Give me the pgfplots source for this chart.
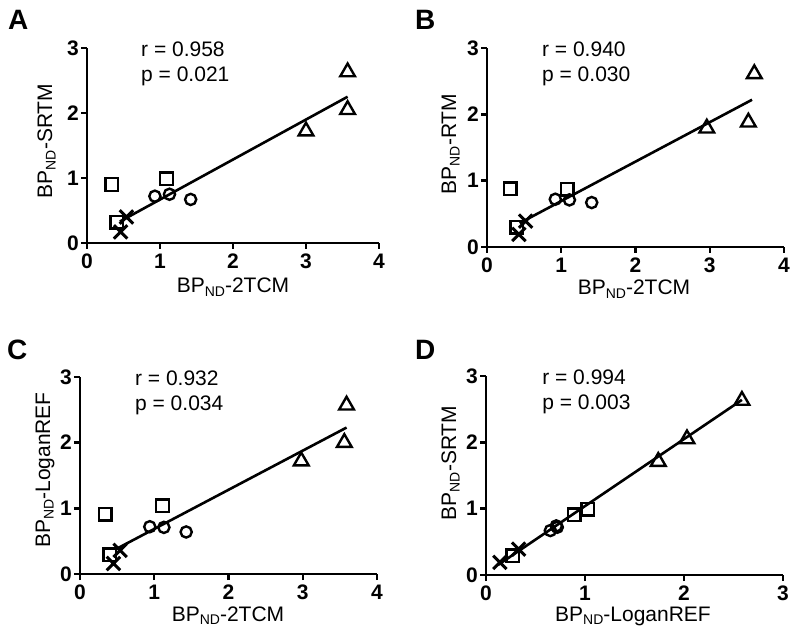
\documentclass[border=0pt]{standalone}
\usepackage{fontspec}
\setmainfont{Liberation Sans}
\usepackage{pgfplots}
\pgfplotsset{compat=1.18}
\newcommand{\bpnd}{BP\raisebox{-3.5pt}{\fontsize{14}{14}\selectfont ND}}
\tikzset{ann/.style={anchor=base west, font=\fontsize{21}{21}\selectfont, inner sep=0pt},
  ylab/.style={rotate=90, anchor=base, inner sep=0pt, font=\fontsize{21}{21}\selectfont},
  xlab/.style={anchor=base, inner sep=0pt, font=\fontsize{21}{21}\selectfont},
  plet/.style={anchor=base west, inner sep=0pt, font=\fontsize{28}{28}\selectfont\bfseries}}
\pgfplotsset{
  panel/.style={
    scale only axis,
    axis lines=left,
    axis line style={-, line width=2.8pt},
    tick align=outside,
    major tick length=6pt,
    tick style={line width=2.4pt, black},
    ymin=0, ymax=3, ytick={0,1,2,3},
    ticklabel style={font=\fontsize{21}{21}\selectfont\bfseries, inner sep=1pt},
    xticklabel style={yshift=-4pt},
    yticklabel style={xshift=-1pt},
    /pgf/number format/assume math mode=true,
    clip=false,
  },
  tri/.style={only marks, mark=triangle, mark size=8.5pt, mark options={line width=2.4pt, black}},
  sq/.style={only marks, mark=square, mark size=6.3pt, mark options={line width=2.4pt, black}},
  circ/.style={only marks, mark=o, mark size=5.6pt, mark options={line width=2.4pt, black}},
  crs/.style={only marks, mark=x, mark size=9.5pt, mark options={line width=3pt, black}},
  fit/.style={no marks, line width=2.6pt, black},
}
\begin{document}
\begin{tikzpicture}
\useasboundingbox (0,0) rectangle (800pt,637pt);
% Panel letters
\node[plet] at (8pt,607pt) {A};
\node[plet] at (415pt,607pt) {B};
\node[plet] at (7pt,277pt) {C};
\node[plet] at (415pt,277pt) {D};
% Axis titles
\node[ylab] at (52pt,496pt) {\bpnd-SRTM};
\node[xlab] at (233pt,344pt) {\bpnd-2TCM};
\node[ylab] at (456pt,493pt) {\bpnd-RTM};
\node[xlab] at (634pt,342pt) {\bpnd-2TCM};
\node[ylab] at (50pt,167pt) {\bpnd-LoganREF};
\node[xlab] at (228pt,16pt) {\bpnd-2TCM};
\node[ylab] at (456pt,174pt) {\bpnd-SRTM};
\node[xlab] at (633pt,16pt) {\bpnd-LoganREF};

% Panel A
\begin{axis}[panel, at={(87pt,394pt)}, anchor=south west, width=292pt, height=195pt,
  xmin=0, xmax=4, xtick={0,1,2,3,4}]
\addplot[fit] coordinates {(0.45,0.33) (3.57,2.25)};
\addplot[tri] coordinates {(3.57,2.63) (3.57,2.05) (3.00,1.72)};
\addplot[sq] coordinates {(0.34,0.90) (1.09,0.99) (0.41,0.32)};
\addplot[circ] coordinates {(0.93,0.72) (1.13,0.75) (1.42,0.67)};
\addplot[crs] coordinates {(0.54,0.40) (0.46,0.17)};
\node[ann] at (axis description cs:0.185,0.955) {r = 0.958};
\node[ann] at (axis description cs:0.185,0.83) {p = 0.021};
\end{axis}

% Panel B
\begin{axis}[panel, at={(487pt,390pt)}, anchor=south west, width=297pt, height=199pt,
  xmin=0, xmax=4, xtick={0,1,2,3,4}]
\addplot[fit] coordinates {(0.44,0.36) (3.57,2.22)};
\addplot[tri] coordinates {(3.60,2.61) (3.52,1.88) (2.96,1.79)};
\addplot[sq] coordinates {(0.31,0.88) (1.08,0.87) (0.40,0.30)};
\addplot[circ] coordinates {(0.92,0.72) (1.11,0.71) (1.41,0.67)};
\addplot[crs] coordinates {(0.52,0.39) (0.43,0.19)};
\node[ann] at (axis description cs:0.185,0.955) {r = 0.940};
\node[ann] at (axis description cs:0.185,0.83) {p = 0.030};
\end{axis}

% Panel C
\begin{axis}[panel, at={(80pt,63pt)}, anchor=south west, width=297pt, height=197pt,
  xmin=0, xmax=4, xtick={0,1,2,3,4}]
\addplot[fit] coordinates {(0.47,0.37) (3.59,2.23)};
\addplot[tri] coordinates {(3.59,2.57) (3.56,2.00) (2.98,1.72)};
\addplot[sq] coordinates {(0.34,0.91) (1.11,1.04) (0.40,0.29)};
\addplot[circ] coordinates {(0.94,0.72) (1.13,0.71) (1.43,0.64)};
\addplot[crs] coordinates {(0.54,0.36) (0.45,0.16)};
\node[ann] at (axis description cs:0.185,0.955) {r = 0.932};
\node[ann] at (axis description cs:0.185,0.83) {p = 0.034};
\end{axis}

% Panel D
\begin{axis}[panel, at={(486pt,62pt)}, anchor=south west, width=297pt, height=199pt,
  xmin=0, xmax=3, xtick={0,1,2,3}]
\addplot[fit] coordinates {(0.12,0.15) (2.585,2.64)};
\addplot[tri] coordinates {(2.585,2.63) (2.03,2.05) (1.74,1.71)};
\addplot[sq] coordinates {(1.03,0.99) (0.89,0.91) (0.27,0.29)};
\addplot[circ] coordinates {(0.65,0.67) (0.71,0.74) (0.72,0.72)};
\addplot[crs] coordinates {(0.33,0.39) (0.14,0.19)};
\node[ann] at (axis description cs:0.189,0.955) {r = 0.994};
\node[ann] at (axis description cs:0.189,0.83) {p = 0.003};
\end{axis}
\end{tikzpicture}
\end{document}
